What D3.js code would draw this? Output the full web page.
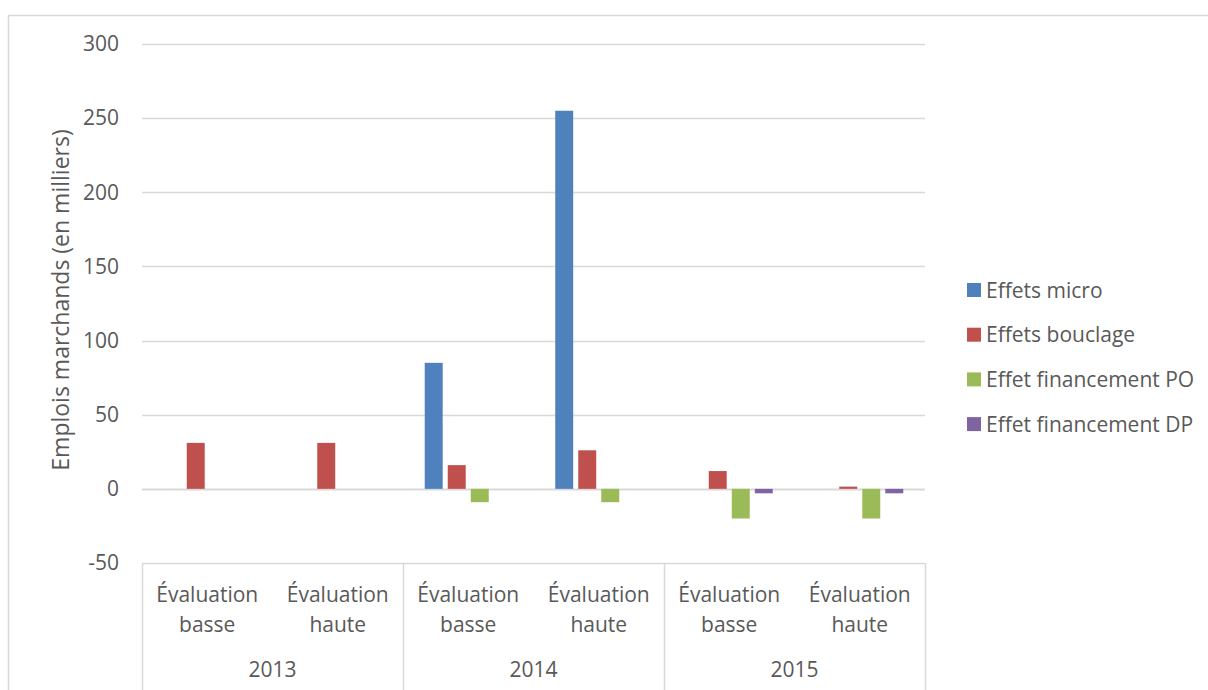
<!DOCTYPE html>
<html><head><meta charset="utf-8">
<script src="https://cdn.jsdelivr.net/npm/d3@7"></script>
<style>body{margin:0;background:#fff;} svg{display:block;font-family:"Open Sans",sans-serif;}</style>
</head><body>
<svg id="c" width="1208" height="690"></svg>
<script>
const years = ["2013","2014","2015"];
const evals = ["Évaluation basse","Évaluation haute"];
const categories = ["2013|b","2013|h","2014|b","2014|h","2015|b","2015|h"];
const series = ["Effets micro","Effets bouclage","Effet financement PO","Effet financement DP"];
const colors = ["#4F81BD","#C0504D","#9BBB59","#8064A2"];
const effetsMicro   = [0, 0, 85, 255, 0, 0];
const effetsBouclage= [31, 31, 16, 26, 12, 1.5];
const effetPO       = [0, 0, -9, -9, -20, -20];
const effetDP       = [0, 0, 0, 0, -3, -3];
const yTicks = [-50,0,50,100,150,200,250,300];
const values = [effetsMicro, effetsBouclage, effetPO, effetDP];

const svg = d3.select("#c");
const txt = "#595959", grid = "#d9d9d9";
const L=142, R=925, T=44, B=563;
const FS = "21px";

// outer border
svg.append("path").attr("d","M8.5,690 V15.5 H1208").attr("fill","none").attr("stroke",grid).attr("stroke-width",1.5);

const y = d3.scaleLinear().domain([-50,300]).range([B,T]);
const x0 = d3.scaleBand().domain(categories).range([L,R]).padding(0);
const groupW = x0.bandwidth()*0.667;
const x1 = d3.scaleBand().domain(series).range([0,groupW]).paddingInner(0.22).paddingOuter(0);
const off = (x0.bandwidth()-groupW)/2;

// gridlines
svg.append("g").selectAll("line").data(yTicks.filter(t=>t!==-50)).join("line")
  .attr("x1",L).attr("x2",R).attr("y1",d=>Math.round(y(d))+0.5).attr("y2",d=>Math.round(y(d))+0.5)
  .attr("stroke",grid).attr("stroke-width",d=>d===0?2:1.3);

// y axis labels
const yAxis = d3.axisLeft(y).tickValues(yTicks).tickSize(0).tickPadding(0).tickFormat(d=>String(d));
const ga = svg.append("g").attr("transform",`translate(119,0)`).call(yAxis);
ga.select(".domain").remove();
ga.selectAll("text").attr("fill",txt).style("font-size",FS).style("font-family","Open Sans");

// bars
categories.forEach((c,ci)=>{
  series.forEach((s,si)=>{
    const v = values[si][ci];
    if(v===0) return;
    svg.append("rect")
      .attr("x", x0(c)+off+x1(s))
      .attr("width", x1.bandwidth())
      .attr("y", y(Math.max(0,v)))
      .attr("height", Math.abs(y(v)-y(0)))
      .attr("fill", colors[si]);
  });
});

// category axis (multi-level)
const ax = svg.append("g").attr("stroke",grid).attr("stroke-width",1.5);
ax.append("line").attr("x1",L).attr("x2",R).attr("y1",B+0.5).attr("y2",B+0.5);
const bounds = [0,2,4,6].map(i=> i<6 ? x0(categories[i]) : R);
bounds.forEach(bx=>{
  ax.append("line").attr("x1",Math.round(bx)+0.5).attr("x2",Math.round(bx)+0.5).attr("y1",B).attr("y2",690);
});
categories.forEach((c,ci)=>{
  const cx = x0(c)+x0.bandwidth()/2;
  const parts = evals[ci%2].split(" ");
  svg.append("text").attr("x",cx).attr("y",602).attr("text-anchor","middle").attr("fill",txt)
    .style("font-size",FS).text(parts[0]);
  svg.append("text").attr("x",cx).attr("y",632).attr("text-anchor","middle").attr("fill",txt)
    .style("font-size",FS).text(parts[1]);
});
years.forEach((yr,i)=>{
  const cx = (x0(categories[i*2]) + x0(categories[i*2+1]) + x0.bandwidth())/2;
  svg.append("text").attr("x",cx).attr("y",677).attr("text-anchor","middle").attr("fill",txt)
    .style("font-size",FS).text(yr);
});

// y axis title
svg.append("text").attr("transform","translate(69,300) rotate(-90)").attr("text-anchor","middle")
  .attr("fill",txt).style("font-size","23px").text("Emplois marchands (en milliers)");

// legend
const lg = svg.append("g");
series.forEach((s,i)=>{
  const cy = 290 + i*44.7;
  lg.append("rect").attr("x",967).attr("y",cy-7).attr("width",14).attr("height",14).attr("fill",colors[i]);
  lg.append("text").attr("x",986).attr("y",cy+7.5).attr("fill",txt).style("font-size",FS).text(s);
});
</script>
</body></html>
